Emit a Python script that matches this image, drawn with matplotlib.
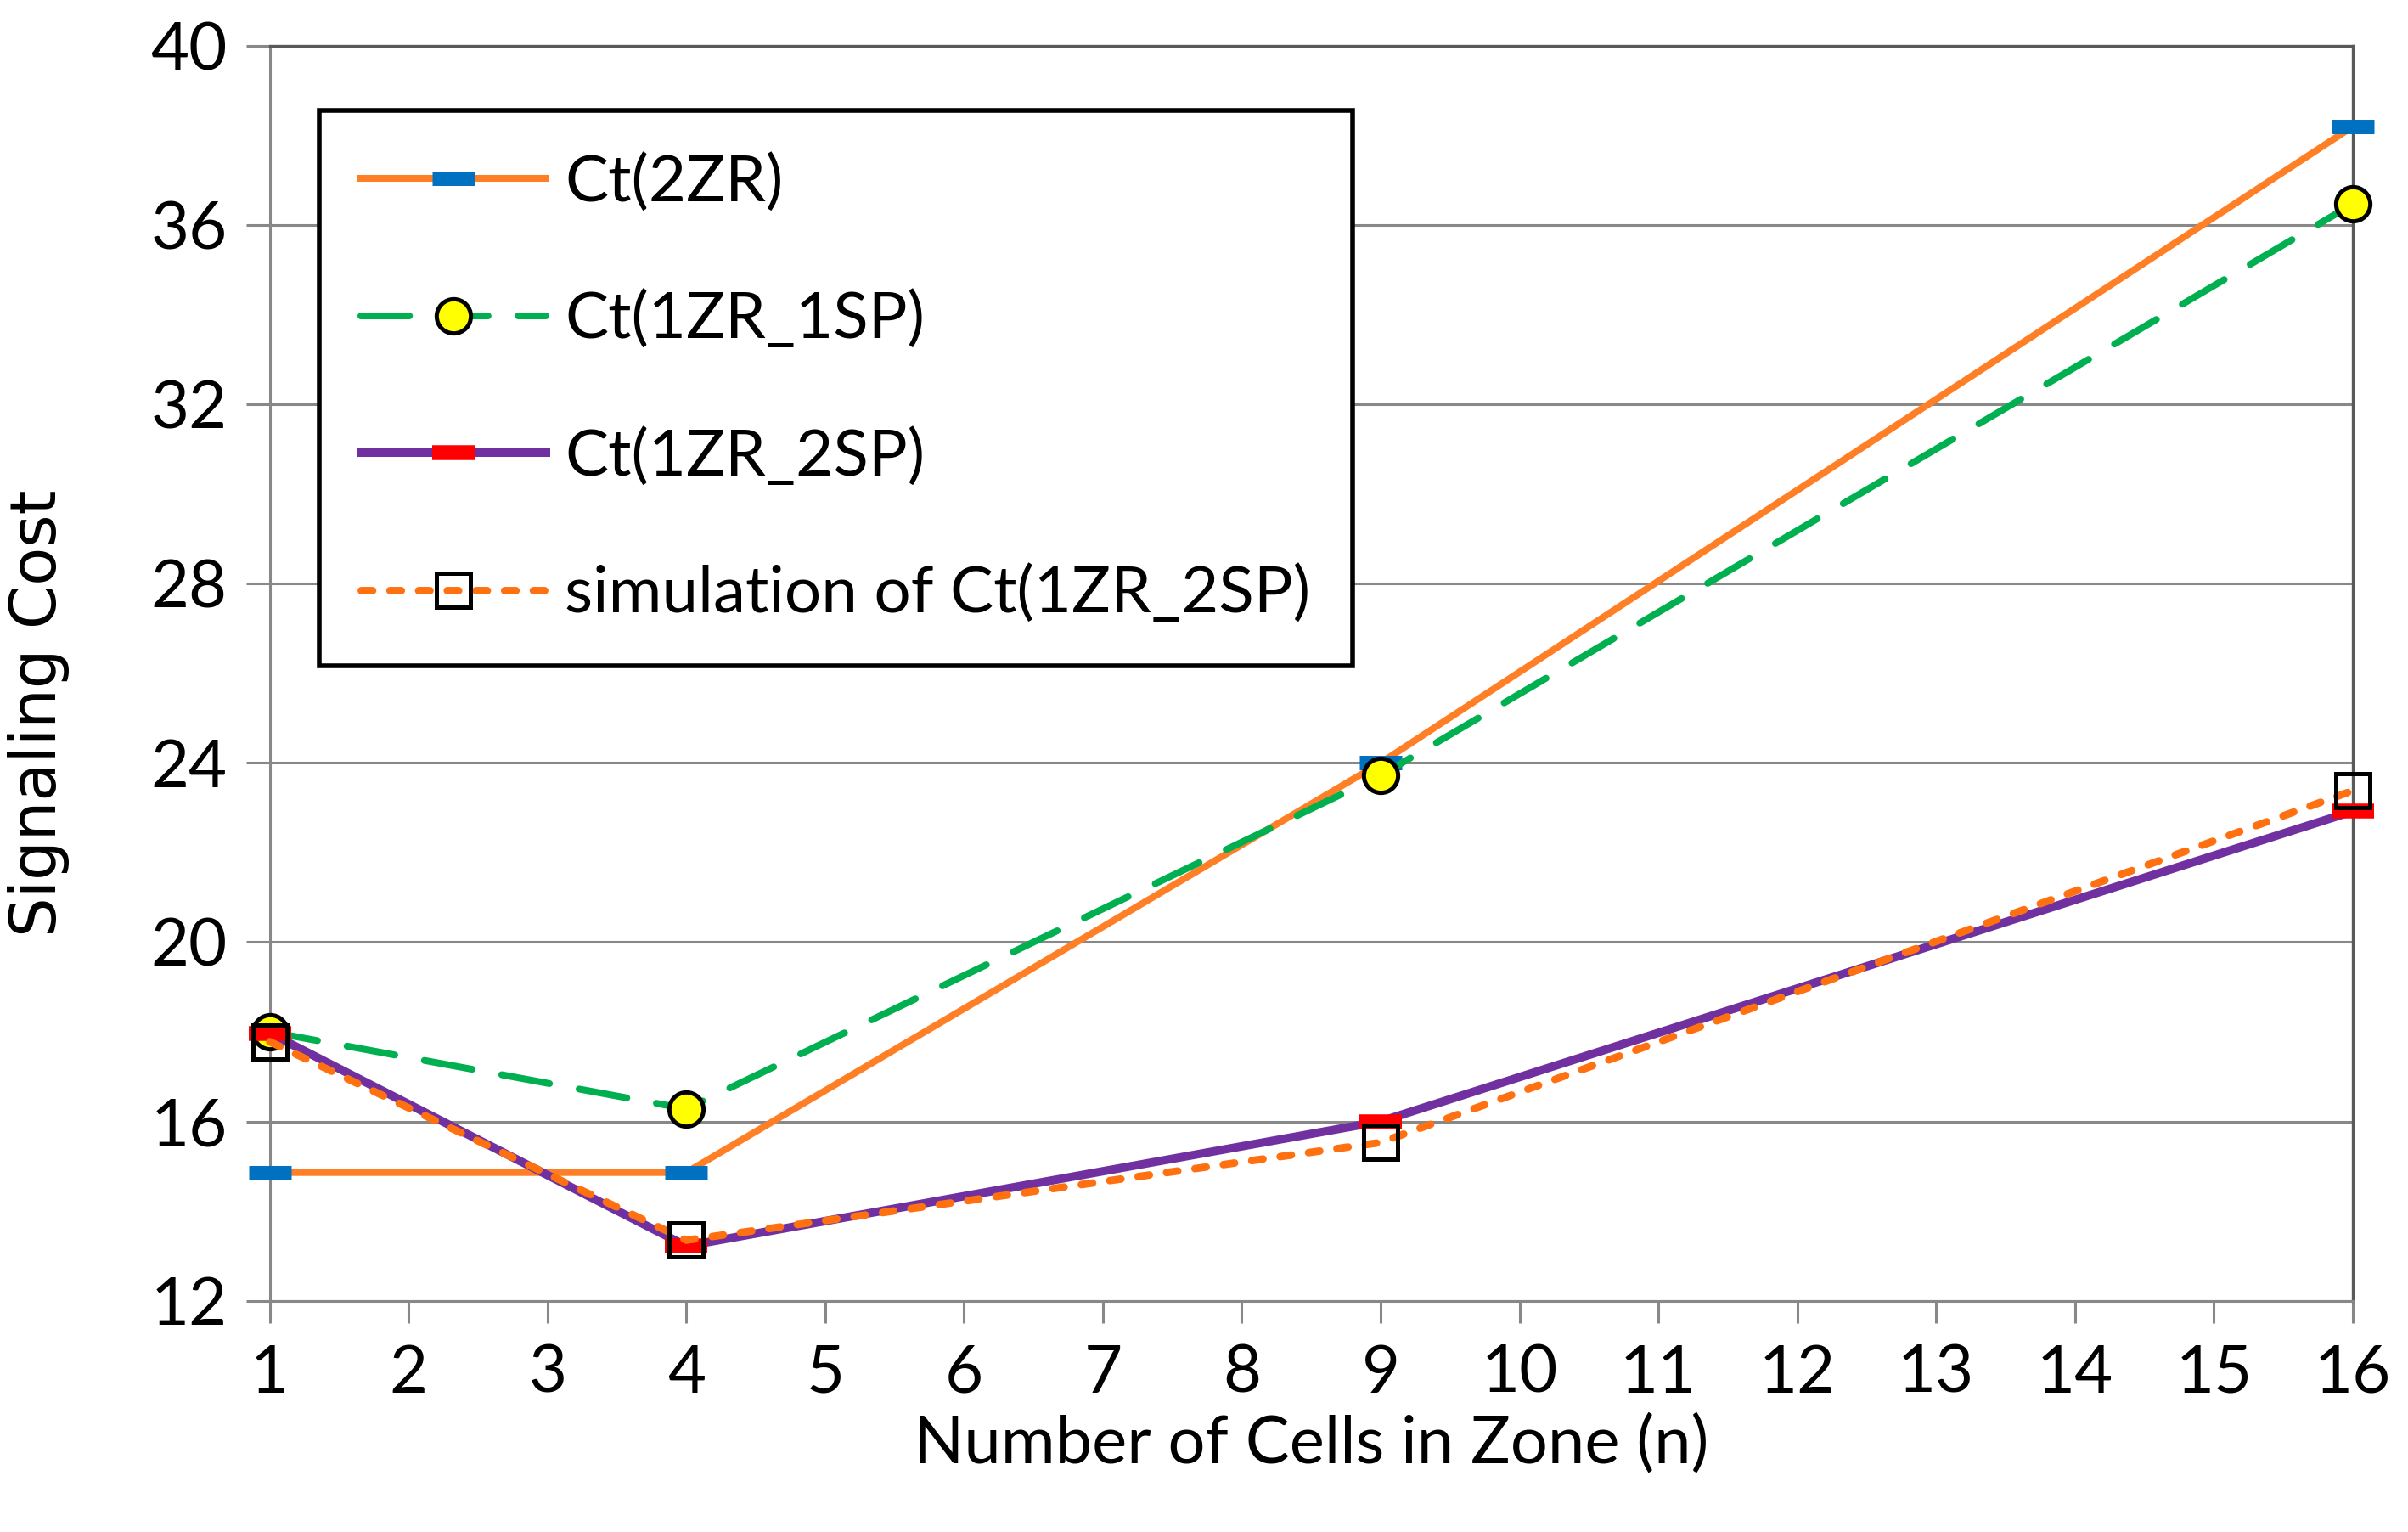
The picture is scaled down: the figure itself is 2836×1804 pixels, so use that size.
import matplotlib
matplotlib.use("Agg")
import matplotlib.pyplot as plt

# --- data ---
n_cells = [1, 4, 9, 16]
ct_2zr = [14.86, 14.86, 24.0, 38.2]
ct_1zr_1sp = [18.0, 16.28, 23.72, 36.47]
ct_1zr_2sp = [17.97, 13.22, 16.0, 22.92]
sim_1zr_2sp = [17.78, 13.35, 15.53, 23.38]

x_ticks = list(range(1, 17))
y_ticks = [12, 16, 20, 24, 28, 32, 36, 40]

plt.rcParams['font.family'] = ['Lato', 'DejaVu Sans']

fig = plt.figure(figsize=(14.18, 9.02), dpi=200)
ax = fig.add_axes([0.112, 0.151, 0.865, 0.819])

grid_col = '#888888'
border_col = '#595959'

# 1. series (markers may sit on the plot border, so no clipping)
ax.plot(n_cells, ct_2zr, color='#FF7F27', lw=2.9, marker='_', ms=18,
        mew=6.1, mec='#0070C0', mfc='#0070C0', label='Ct(2ZR)', zorder=3,
        clip_on=False)
ax.plot(n_cells, ct_1zr_1sp, color='#00B050', lw=2.9, linestyle=(0, (7.1, 4.4)),
        dash_capstyle='round', marker='o', ms=14.5, mfc='#FFFF00', mec='black',
        mew=1.8, label='Ct(1ZR_1SP)', zorder=4, clip_on=False)
ax.plot(n_cells, ct_1zr_2sp, color='#7030A0', lw=3.6, marker='_', ms=18,
        mew=6.3, mec='#FF0000', mfc='#FF0000', label='Ct(1ZR_2SP)', zorder=5,
        clip_on=False)
ax.plot(n_cells, sim_1zr_2sp, color='#FF7010', lw=3.2, linestyle=(0, (1.5, 2.3)),
        dash_capstyle='round', marker='s', ms=14.5, mfc='none', mec='black',
        mew=1.8, label='simulation of Ct(1ZR_2SP)', zorder=6, clip_on=False)

# 2. axes
ax.set_xlim(1, 16)
ax.set_ylim(12, 40)
ax.set_xticks(x_ticks)
ax.set_yticks(y_ticks)
ax.tick_params(axis='both', labelsize=28, color=grid_col, width=1.1)
ax.tick_params(axis='x', length=9.4, pad=9)
ax.tick_params(axis='y', length=10, pad=8)
ax.yaxis.grid(True, color=grid_col, lw=1.1, zorder=0)
ax.set_axisbelow(True)

for side in ['left', 'bottom']:
    ax.spines[side].set_color(grid_col)
    ax.spines[side].set_linewidth(1.1)
for side in ['top', 'right']:
    ax.spines[side].set_color(border_col)
    ax.spines[side].set_linewidth(1.2)

ax.set_xlabel('Number of Cells in Zone (n)', fontsize=28, labelpad=4)
ax.set_ylabel('Signaling Cost', fontsize=26.5, family='DejaVu Sans')
ax.yaxis.set_label_coords(-0.096, 0.4685)

# 3. legend
leg = ax.legend(loc='upper left', bbox_to_anchor=(0.0237, 0.9485), fontsize=27.5,
                handlelength=2.85, handletextpad=0.29, labelspacing=1.2,
                borderpad=0.65, borderaxespad=0, fancybox=False, framealpha=1,
                edgecolor='black', numpoints=1)
leg.get_frame().set_linewidth(2.0)
leg.set_zorder(10)

fig.savefig('out.png', dpi=200)
